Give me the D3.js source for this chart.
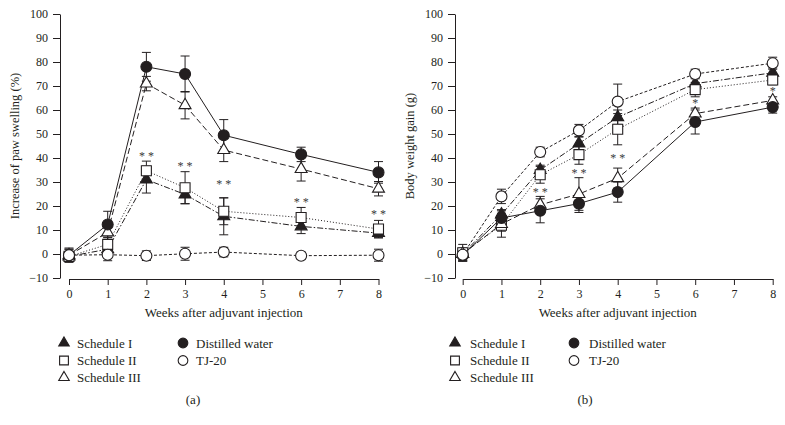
<!DOCTYPE html>
<html>
<head>
<meta charset="utf-8">
<script src="https://cdn.jsdelivr.net/npm/d3@7"></script>
<style>
  html, body { margin: 0; padding: 0; background: #fff; }
  svg { display: block; }
  text { font-family: "Liberation Serif", "Times New Roman", serif; }
</style>
</head>
<body>
<svg id="chart" width="785" height="425"></svg>
<script>
// ---------- data ----------
const weeks = [0, 1, 2, 3, 4, 6, 8];
const xTickValues = [0, 1, 2, 3, 4, 5, 6, 7, 8];
const yTickValues = [-10, 0, 10, 20, 30, 40, 50, 60, 70, 80, 90, 100];

const seriesNames = ["Schedule I", "Schedule II", "Schedule III", "Distilled water", "TJ-20"];

// Panel (a): increase of paw swelling (%)
const pawSchedI      = [-1, 2, 31, 24.8, 15.7, 11.5, 8.7];
const pawSchedIErr   = [2, 1.5, 5.6, 3.8, 7.7, 3, 2];
const pawSchedII     = [-1, 4, 34.7, 27.6, 17.8, 15.2, 10.4];
const pawSchedIIErr  = [2, 3, 4, 6.7, 5.6, 4.2, 3.6];
const pawSchedIII    = [-0.5, 9, 71, 62, 43.3, 35.4, 27.2];
const pawSchedIIIErr = [2.5, 3, 3, 5.7, 4.8, 5, 3];
const pawWater       = [-0.5, 12.3, 78, 75, 49.5, 41.5, 34];
const pawWaterErr    = [2.5, 5.5, 6, 7.5, 6.5, 3, 4.5];
const pawTJ20        = [-0.5, -0.3, -0.7, 0.1, 0.8, -0.7, -0.5];
const pawTJ20Err     = [3, 2.5, 2, 2.7, 2, 1.5, 2.5];
const pawStarWeeks   = [2, 3, 4, 6, 8];
const pawStarValues  = [41.5, 37.5, 29.8, 22.6, 17.3];
const pawStarLabels  = ["**", "**", "**", "**", "**"];

// Panel (b): body weight gain (g)
const bwSchedI      = [0, 16.5, 35, 46, 57, 71, 75.5];
const bwSchedIErr   = [2, 2, 2, 2.7, 3, 2.5, 2];
const bwSchedII     = [0.5, 12, 33, 41.4, 52, 68.5, 72.5];
const bwSchedIIErr  = [3.5, 5, 3.5, 4, 6.5, 3, 2];
const bwSchedIII    = [0, 12.5, 20.5, 25, 31.6, 58.5, 64];
const bwSchedIIIErr = [2.5, 3, 3.5, 6.8, 4.2, 2.3, 1.5];
const bwWater       = [-0.5, 15, 18, 21, 25.8, 55, 61.2];
const bwWaterErr    = [2.5, 3, 5, 3.7, 4.2, 5, 2.5];
const bwTJ20        = [-0.3, 24, 42.5, 51.5, 63.5, 75, 79.5];
const bwTJ20Err     = [2.5, 3, 2, 2.5, 7.3, 2, 2.5];
const bwStarWeeks   = [2, 3, 4, 6, 8];
const bwStarValues  = [26.8, 34.4, 40.7, 63.6, 68.7];
const bwStarLabels  = ["**", "**", "**", "*", "*"];

// ---------- styles ----------
const INK = "#231f20";
const styles = {
  "Schedule I":      { shape: "triangle", fill: INK,    dash: "6,2,1.5,2" },
  "Schedule II":     { shape: "square",   fill: "#fff", dash: "1,2" },
  "Schedule III":    { shape: "triangle", fill: "#fff", dash: "6,3" },
  "Distilled water": { shape: "circle",   fill: INK,    dash: null },
  "TJ-20":           { shape: "circle",   fill: "#fff", dash: "3,2" }
};

const panels = [
  {
    xRange: [69, 378.5], axisX: 60, yTitle: "Increase of paw swelling (%)", label: "(a)",
    yTitleX: 15, labelX: 193,
    values: [pawSchedI, pawSchedII, pawSchedIII, pawWater, pawTJ20],
    errors: [pawSchedIErr, pawSchedIIErr, pawSchedIIIErr, pawWaterErr, pawTJ20Err],
    stars: { w: pawStarWeeks, v: pawStarValues, t: pawStarLabels },
    legend: { col1: [64, 77], col2: [183, 196] }
  },
  {
    xRange: [462.7, 772.7], axisX: 455, yTitle: "Body weight gain (g)", label: "(b)",
    yTitleX: 410, labelX: 585,
    values: [bwSchedI, bwSchedII, bwSchedIII, bwWater, bwTJ20],
    errors: [bwSchedIErr, bwSchedIIErr, bwSchedIIIErr, bwWaterErr, bwTJ20Err],
    stars: { w: bwStarWeeks, v: bwStarValues, t: bwStarLabels },
    legend: { col1: [455, 470], col2: [574, 589] }
  }
];

const svg = d3.select("#chart");
svg.append("rect").attr("width", 785).attr("height", 425).attr("fill", "#fff");

const y = d3.scaleLinear().domain([-10, 100]).range([278, 14]);

function drawMarker(g, shape, fill, cx, cy, scale) {
  scale = scale || 1;
  let sym;
  if (shape === "circle") sym = d3.symbol(d3.symbolCircle, 95 * scale * scale);
  else if (shape === "square") sym = d3.symbol(d3.symbolSquare, 100 * scale * scale);
  else sym = d3.symbol(d3.symbolTriangle, 62 * scale * scale);
  g.append("path")
    .attr("d", sym())
    .attr("transform", `translate(${cx},${cy})`)
    .attr("fill", fill)
    .attr("stroke", INK)
    .attr("stroke-width", 1.1);
}

panels.forEach(p => {
  const x = d3.scaleLinear().domain([0, 8]).range(p.xRange);
  const g = svg.append("g");

  // y axis
  const yAxis = d3.axisLeft(y).tickValues(yTickValues).tickSize(7).tickSizeOuter(0).tickPadding(5);
  const ya = g.append("g").attr("transform", `translate(${p.axisX},0)`).call(yAxis);
  ya.selectAll("text").style("font-size", "12px").style("font-family", "Liberation Serif, serif").attr("fill", INK);
  ya.selectAll("line,path").attr("stroke", INK);

  // x axis
  const xAxis = d3.axisBottom(x).tickValues(xTickValues).tickSize(6).tickSizeOuter(0).tickPadding(4).tickFormat(d3.format("d"));
  const xa = g.append("g").attr("transform", `translate(0,279)`).call(xAxis);
  xa.selectAll("text").style("font-size", "12px").style("font-family", "Liberation Serif, serif").attr("fill", INK);
  xa.selectAll("line,path").attr("stroke", INK);

  // axis titles
  g.append("text")
    .attr("x", (p.xRange[0] + p.xRange[1]) / 2).attr("y", 317)
    .attr("text-anchor", "middle").style("font-size", "13px").attr("fill", INK)
    .text("Weeks after adjuvant injection");
  g.append("text")
    .attr("transform", `translate(${p.yTitleX},${(y(100) + y(-10)) / 2}) rotate(-90)`)
    .attr("text-anchor", "middle").attr("dy", "0.35em").style("font-size", "12.5px").attr("fill", INK)
    .text(p.yTitle);

  // error bars
  const eb = g.append("g").attr("stroke", INK).attr("stroke-width", 1);
  p.values.forEach((vals, si) => {
    vals.forEach((v, i) => {
      const e = p.errors[si][i];
      const cx = x(weeks[i]);
      eb.append("line").attr("x1", cx).attr("x2", cx).attr("y1", y(v - e)).attr("y2", y(v + e));
      [v - e, v + e].forEach(t => {
        eb.append("line").attr("x1", cx - 4.5).attr("x2", cx + 4.5).attr("y1", y(t)).attr("y2", y(t));
      });
    });
  });

  // lines
  const line = d3.line().x((d, i) => x(weeks[i])).y(d => y(d));
  p.values.forEach((vals, si) => {
    const st = styles[seriesNames[si]];
    g.append("path").datum(vals)
      .attr("d", line)
      .attr("fill", "none")
      .attr("stroke", INK)
      .attr("stroke-width", 1)
      .attr("stroke-dasharray", st.dash);
  });

  // markers
  const mk = g.append("g");
  p.values.forEach((vals, si) => {
    const st = styles[seriesNames[si]];
    vals.forEach((v, i) => drawMarker(mk, st.shape, st.fill, x(weeks[i]), y(v)));
  });

  // significance stars
  p.stars.w.forEach((w, i) => {
    g.append("text")
      .attr("x", x(w) + 1.5).attr("y", y(p.stars.v[i]) + 6)
      .attr("text-anchor", "middle")
      .style("font-size", "12px")
      .style("letter-spacing", "3px")
      .style("fill", "#3a3a3a")
      .text(p.stars.t[i]);
  });

  // legend
  const rows = [343, 360.5, 377.5];
  const col1 = ["Schedule I", "Schedule II", "Schedule III"];
  const col2 = ["Distilled water", "TJ-20"];
  const lg = g.append("g");
  col1.forEach((name, i) => {
    const st = styles[name];
    drawMarker(lg, st.shape, st.fill, p.legend.col1[0], rows[i], 0.88);
    lg.append("text").attr("x", p.legend.col1[1]).attr("y", rows[i]).attr("dy", "0.35em")
      .style("font-size", "13px").attr("fill", INK).text(name);
  });
  col2.forEach((name, i) => {
    const st = styles[name];
    drawMarker(lg, st.shape, st.fill, p.legend.col2[0], rows[i], 0.88);
    lg.append("text").attr("x", p.legend.col2[1]).attr("y", rows[i]).attr("dy", "0.35em")
      .style("font-size", "13px").attr("fill", INK).text(name);
  });

  // panel label
  g.append("text")
    .attr("x", p.labelX).attr("y", 399).attr("dy", "0.35em")
    .attr("text-anchor", "middle").style("font-size", "13px").attr("fill", INK).text(p.label);
});
</script>
</body>
</html>
